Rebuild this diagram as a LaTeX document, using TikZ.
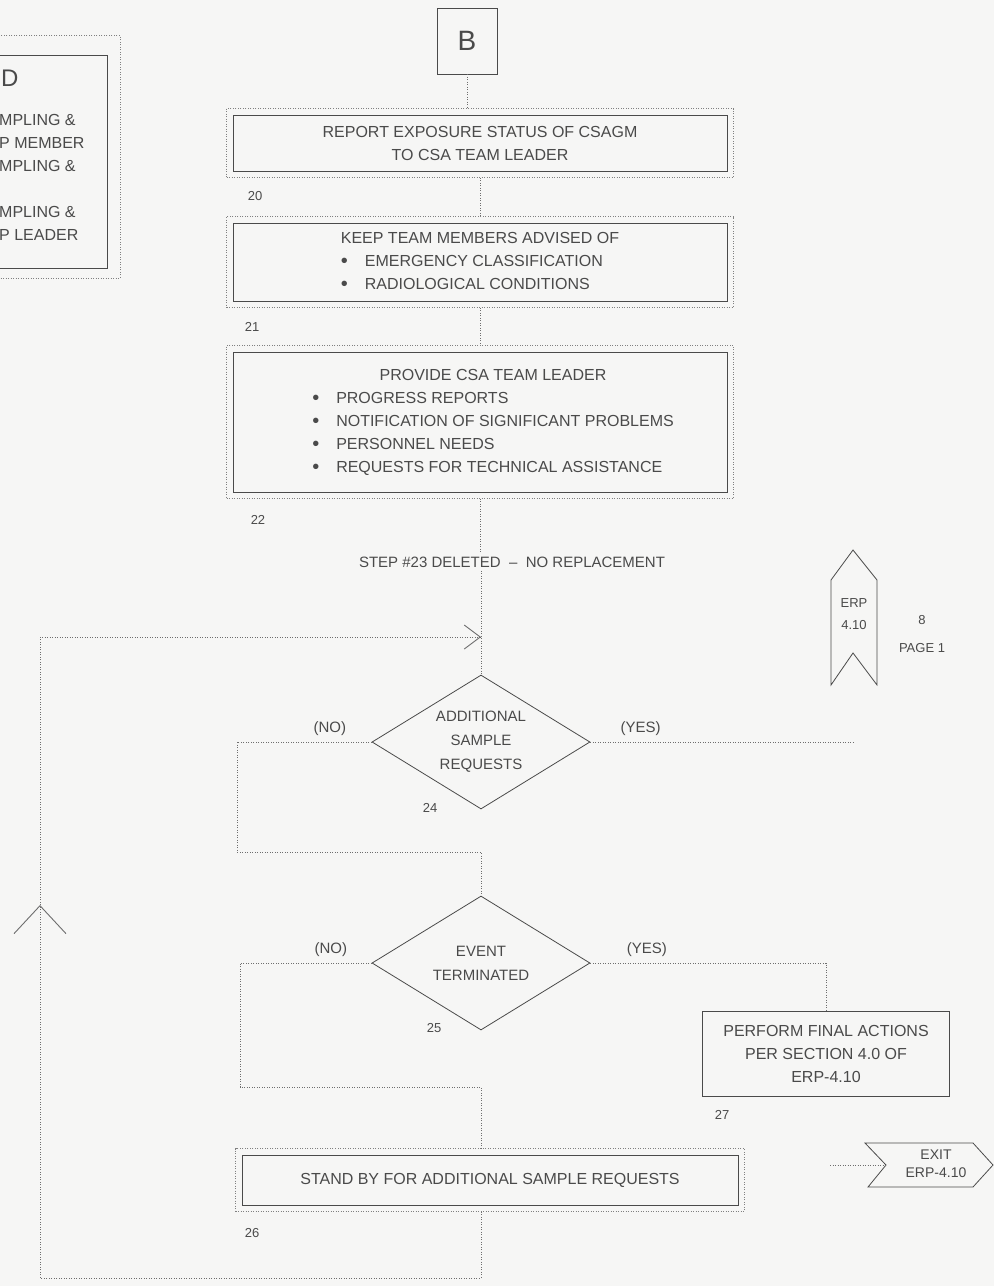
\documentclass[tikz,border=0pt]{standalone}
\usepackage{fontspec}
\setmainfont{Liberation Sans}
\usetikzlibrary{shapes.geometric,arrows.meta,fit}
\definecolor{ink}{HTML}{4a4a4a}
\definecolor{paper}{HTML}{f6f6f5}
\newcommand{\blt}{\makebox[24pt][l]{\fontsize{20}{20}\selectfont\raisebox{-0.5pt}{•}}}

\begin{document}
\begin{tikzpicture}[x=1pt,y=-1pt,
    every node/.style={text=ink},
    txt/.style={font=\fontsize{16}{23}\selectfont},
    stepbox/.style={draw=ink, line width=0.8pt, inner sep=0pt, align=center, txt},
    frame/.style={draw=ink!70, dash pattern=on 1pt off 1.5pt, line width=0.8pt, inner xsep=6pt, inner ysep=6pt},
    decision/.style={diamond, draw=ink, line width=0.8pt, aspect=1.63, inner sep=0pt,
        minimum width=218pt, minimum height=134pt, align=center, font=\fontsize{15}{24}\selectfont},
    link/.style={draw=ink!80, dash pattern=on 1pt off 1.5pt, line width=0.9pt},
    shapeline/.style={draw=ink, line width=0.8pt},
    num/.style={font=\fontsize{13}{13}\selectfont},
    yn/.style={font=\fontsize{15}{15}\selectfont, above=3pt}]

    \fill[paper] (0,0) rectangle (994,1286);
    \useasboundingbox (0,0) rectangle (994,1286);

    % legend box, cut off at the left edge
    \node[shapeline, minimum width=147pt, minimum height=213pt] (lgbox) at (33.5,161.5) {};
    \node[frame, minimum width=172pt, minimum height=243pt] (lgframe) at (34,156.5) {};
    \node[font=\fontsize{24}{24}\selectfont, anchor=west, inner sep=0pt] (lgd) at (1,78) {D};
    \node[txt, align=left, anchor=north west, inner sep=0pt] (lgtxt) at (-1,114)
        {MPLING \&\\P MEMBER\\MPLING \&\\[23pt]MPLING \&\\P LEADER};

    % entry connector
    \node[shapeline, minimum width=60pt, minimum height=66pt, font=\fontsize{28}{28}\selectfont] (B) at (467,41) {B};

    % steps 20 - 22
    \node[stepbox, minimum width=494pt, minimum height=56pt] (b20) at (480,143)
        {REPORT EXPOSURE STATUS OF CSAGM\\TO CSA TEAM LEADER};
    \node[stepbox, minimum width=494pt, minimum height=78pt] (b21) at (480,262)
        {\begin{tabular}{@{}l@{}}\multicolumn{1}{@{}c@{}}{KEEP TEAM MEMBERS ADVISED OF}\\
        \blt EMERGENCY CLASSIFICATION\\ \blt RADIOLOGICAL CONDITIONS\end{tabular}};
    \node[stepbox, minimum width=494pt, minimum height=140pt] (b22) at (480,422)
        {\hspace*{26pt}\begin{tabular}{@{}l@{}}\multicolumn{1}{@{}c@{}}{PROVIDE CSA TEAM LEADER}\\
        \blt PROGRESS REPORTS\\ \blt NOTIFICATION OF SIGNIFICANT PROBLEMS\\
        \blt PERSONNEL NEEDS\\ \blt REQUESTS FOR TECHNICAL ASSISTANCE\end{tabular}};
    \foreach \b in {20,21,22}
        \node[frame, fit=(b\b)] (f\b) {};
    \node[num] (n20) at (255,196) {20};
    \node[num] (n21) at (252,327) {21};
    \node[num] (n22) at (258,520) {22};

    \node[font=\fontsize{15}{15}\selectfont] (s23) at (512,562) {STEP \#23 DELETED \ – \ NO REPLACEMENT};

    % off-page connector
    \draw[shapeline] (853,550) -- (877,580) -- (877,685) -- (853,653) -- (831,685) -- (831,580) -- cycle;
    \node[font=\fontsize{13}{22}\selectfont, align=center] (erp) at (854,614) {ERP\\4.10};
    \node[font=\fontsize{13}{28}\selectfont, align=center] (pg) at (922,634) {8\\PAGE 1};

    % decisions
    \node[decision] (d24) at (481,742) {ADDITIONAL\\SAMPLE\\REQUESTS};
    \node[decision] (d25) at (481,963) {EVENT\\TERMINATED};
    \node[num] (n24) at (430,808) {24};
    \node[num] (n25) at (434,1028) {25};

    % steps 26, 27 and exit
    \node[stepbox, minimum width=247pt, minimum height=85pt] (b27) at (826,1054)
        {PERFORM FINAL ACTIONS\\PER SECTION 4.0 OF\\ERP-4.10};
    \node[num] (n27) at (722,1115) {27};
    \node[stepbox, minimum width=496pt, minimum height=50pt] (b26) at (490,1180)
        {STAND BY FOR ADDITIONAL SAMPLE REQUESTS};
    \node[frame, fit=(b26)] (f26) {};
    \node[num] (n26) at (252,1233) {26};
    \draw[shapeline] (865,1143) -- (973,1143) -- (993,1165) -- (973,1187) -- (868,1187) -- (886,1165) -- cycle;
    \node[font=\fontsize{14}{18}\selectfont, align=center] (exit) at (936,1164) {EXIT\\ERP-4.10};

    % connectors
    \coordinate (join) at (d24.north |- 0,637);
    \coordinate (lt) at (40,637);
    \coordinate (up) at (40,905);
    \coordinate (lb) at (40,1278);
    \coordinate (m24) at (237,852);
    \coordinate (m25) at (240,1087);
    \coordinate (y24) at (855,742);
    \coordinate (y25) at (b27.north |- d25.east);
    \coordinate (x0) at (830,1165);
    \coordinate (xin) at (886,1165);

    \draw[link] (B.south) -- (B.south |- f20.north);
    \draw[link] (f20.south) -- (f21.north);
    \draw[link] (f21.south) -- (f22.north);
    \draw[link] (f22.south) -- (f22.south |- s23.north);
    \draw[link] (d24.north |- s23.south) -- (d24.north);
    \draw[link] (d24.west) -- node[yn, pos=0.31] {(NO)} (d24.west -| m24) -- (m24) -- (m24 -| d25.north) -- (d25.north);
    \draw[link] (d24.east) -- node[yn, pos=0.19] {(YES)} (y24);
    \draw[link] (d25.west) -- node[yn, pos=0.31] {(NO)} (d25.west -| m25) -- (m25) -- (m25 -| d25.south) -- (d25.south |- f26.north);
    \draw[link] (d25.east) -- node[yn, pos=0.24] {(YES)} (y25) -- (b27.north);
    \draw[link] (x0) -- (xin);
    \draw[link, -{Straight Barb[length=28pt,width=52pt]}] (d25.south |- f26.south) -- (d25.south |- lb) -- (lb) -- (up);
    \draw[link, -{Straight Barb[length=16pt,width=24pt]}] (up) -- (lt) -- (join);
\end{tikzpicture}
\end{document}
